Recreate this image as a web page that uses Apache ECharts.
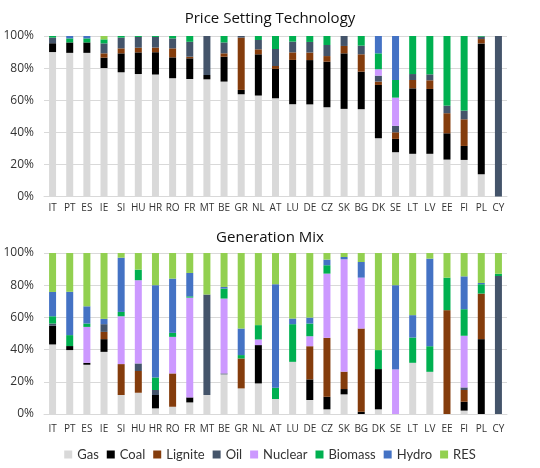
<!DOCTYPE html>
<html><head><meta charset="utf-8">
<script src="https://cdn.jsdelivr.net/npm/echarts@6/dist/echarts.min.js"></script>
<style>html,body{margin:0;padding:0;background:#fff}#c{width:540px;height:468px}</style>
</head><body><div id="c"></div>
<script>
var countries = ['IT','PT','ES','IE','SI','HU','HR','RO','FR','MT','BE','GR','NL','AT','LU','DE','CZ','SK','BG','DK','SE','LT','LV','EE','FI','PL','CY'];
var seriesNames = ['Gas','Coal','Lignite','Oil','Nuclear','Biomass','Hydro','RES'];
var colors = ['#d9d9d9','#000000','#843c0c','#44546a','#cc99ff','#00b050','#4472c4','#92d050'];

// Price Setting Technology (%)
var psGas     = [90,89.5,89.5,80,77.4,76.3,76,73.7,73.2,73,71.6,63.7,62.9,61.2,57.5,57.4,55.6,54.6,54.4,36.3,27.6,26.6,26.6,23,22.8,13.9,0];
var psCoal    = [5.5,6.5,6.5,6.5,11.8,13.5,13.9,13,12.9,2.7,15.5,2.7,25.7,18.3,27.6,27.6,28.4,34.6,23.4,33.2,8.3,40.8,40.4,16.4,8.7,81.5,0];
var psLignite = [0,0,0,2.7,3.1,2.9,2.9,5.6,1,0,2.1,32.6,3.1,1.8,4.7,4.7,3.5,4.6,10.8,2.1,4.1,5.2,5.4,12.5,16.6,2.7,0];
var psOil     = [3.5,0,0,6.2,6.7,6.7,6.6,6.2,9.3,24.3,6.8,1,5.8,10.6,6.7,6.6,6.9,6.2,5.4,3.7,4,3.7,3.7,4.7,5.4,1.5,100];
var psNuclear = [0,0,0,0,0,0,0,0,0,0,0,0,0,0,0,0,0,0,0,4,17.6,0,0,0,0,0,0];
var psBiomass = [1,2.5,2.5,2.5,1,0.6,0.6,1.5,3.6,0,4,0,2.5,8.1,3.5,3.7,5.6,0,6,9.9,11,23.7,23.9,43.4,46.5,0.4,0];
var psHydro   = [0,1.5,1.5,0,0,0,0,0,0,0,0,0,0,0,0,0,0,0,0,10.8,27.4,0,0,0,0,0,0];
var psRES     = [0,0,0,2.1,0,0,0,0,0,0,0,0,0,0,0,0,0,0,0,0,0,0,0,0,0,0,0];

// Generation Mix (%)
var gmGas     = [43.2,39.7,30.6,38.6,11.8,13.2,3.5,4.5,7.2,11.8,24.6,15.9,19,9.3,32.4,8.7,2.9,12.2,0,2.9,0,31.8,26.2,0,2.1,0,0];
var gmCoal    = [11.6,2.5,1.2,7.9,0,0,8.3,0,3.1,0,0,0,23.8,0,0,12.8,7.8,3.3,1.4,25,0,0,0,0,5.5,46.5,0];
var gmLignite = [0,0,0,4.5,19.2,13.5,0,20.7,0,0,0,18.6,0,0,0,20.6,36.6,10.8,51.7,0,0,0,0,64.5,7.3,28.3,0];
var gmOil     = [1.4,0,0,4.8,0,4.7,3.1,0,0,62.4,0.6,0,0,0,0,0,0,0,0,0,0,0,0,0,1.6,0,85.7];
var gmNuclear = [0,0,22.3,0,29.7,51.7,0,22.7,62,0,46.5,0,3.5,0,0,6.2,39.9,69.8,31.6,0,27.7,0,0,0,32.1,0,0];
var gmBiomass = [4.5,6.8,2.1,0,2.7,6.6,7.8,2.5,0.8,0,6.2,2.1,8.9,7,23.4,7.9,5.2,0,0,11.8,0,15.7,15.9,20.2,16.5,5.8,1.4];
var gmHydro   = [15.1,26.9,10.7,3.3,33.7,0,57.3,33.7,14.5,0,1,16.5,0,64.3,3.5,3.7,3.5,1.4,9.7,0,52.3,13.9,54.4,0,20.4,0.8,0];
var gmRES     = [24.2,24.2,33.1,40.9,2.9,10.3,20,15.9,12.4,25.8,21.1,46.9,44.8,19.4,40.7,40.1,4.1,2.5,5.6,60.3,20,38.6,3.5,15.3,14.5,18.6,12.9];

var psData = [psGas,psCoal,psLignite,psOil,psNuclear,psBiomass,psHydro,psRES];
var gmData = [gmGas,gmCoal,gmLignite,gmOil,gmNuclear,gmBiomass,gmHydro,gmRES];

var FONT = 'Open Sans';
var series = [];
[psData, gmData].forEach(function(set, gi){
  set.forEach(function(vals, i){
    series.push({
      name: seriesNames[i], type: 'bar', stack: 'g' + gi,
      xAxisIndex: gi, yAxisIndex: gi,
      barWidth: 7, itemStyle: {color: colors[i]},
      data: vals
    });
  });
});

function xAx(gi){
  return {type:'category', gridIndex:gi, data:countries,
    axisLine:{show:true,lineStyle:{color:'#d9d9d9'}}, axisTick:{show:false},
    axisLabel:{interval:0, fontSize:10, color:'#333', fontFamily:FONT, margin:gi===0?7:10}};
}
function yAx(gi){
  return {type:'value', gridIndex:gi, min:0, max:100, interval:20,
    axisLabel:{formatter:'{value}%', fontSize:12, color:'#333', fontFamily:FONT, margin:10},
    splitLine:{lineStyle:{color:'#d9d9d9'}}, axisLine:{show:false}, axisTick:{show:false}};
}

var chart = echarts.init(document.getElementById('c'), null, {renderer:'canvas'});
chart.setOption({
  animation:false,
  color: colors,
  title:[
    {text:'Price Setting Technology', left:'center', top:6, textStyle:{fontSize:15, fontWeight:'normal', color:'#111', fontFamily:FONT}},
    {text:'Generation Mix', left:'center', top:225, textStyle:{fontSize:15, fontWeight:'normal', color:'#111', fontFamily:FONT}}
  ],
  legend:{data:seriesNames, top:443, left:'center', itemWidth:8, itemHeight:8, itemGap:8,
    icon:'rect', textStyle:{fontSize:13, color:'#333', fontFamily:'Lato'}},
  grid:[
    {left:44, right:33, top:36, height:160.5},
    {left:44, right:33, top:253, height:161}
  ],
  xAxis:[xAx(0), xAx(1)],
  yAxis:[yAx(0), yAx(1)],
  series: series
});
</script></body></html>
